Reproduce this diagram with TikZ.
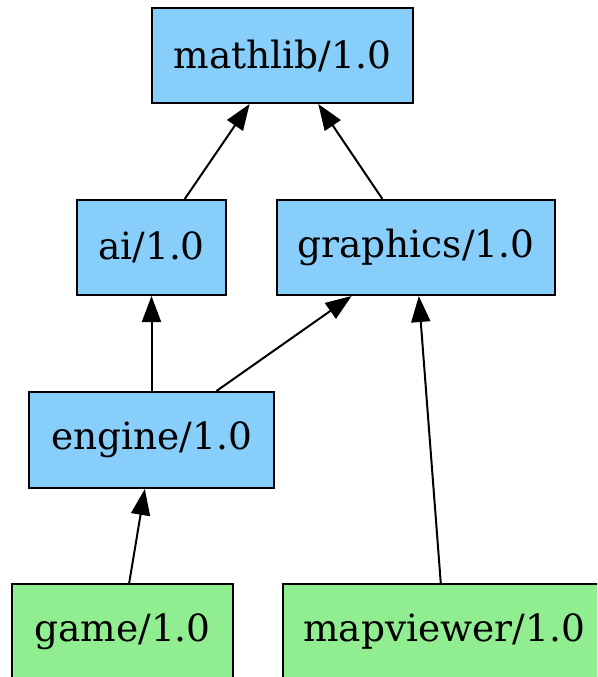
\documentclass[tikz,border=0pt]{standalone}
\usepackage{fontspec}
\setmainfont{DejaVu Serif}
\usetikzlibrary{arrows.meta,calc}
\definecolor{pkgblue}{HTML}{87CEFA}
\definecolor{pkggreen}{HTML}{90EE90}
\tikzset{
  pkg/.style={draw=black, line width=2pt, fill=pkgblue, minimum height=95pt, inner sep=0pt,
    font=\fontsize{37.5}{44}\selectfont},
  leaf/.style={pkg, fill=pkggreen},
  dep/.style={line width=2pt, -{Triangle[length=26pt,width=19pt]}}
}
\begin{document}
\begin{tikzpicture}[x=1pt,y=-1pt]
\path[use as bounding box, clip] (0,0) rectangle (597,677);
\node[pkg, minimum width=261pt] (mathlib) at (282.5,55.5) {mathlib/1.0};
\node[pkg, minimum width=149pt] (ai) at (151.5,247.5) {ai/1.0};
\node[pkg, minimum width=278pt] (graphics) at (416,247.5) {graphics/1.0};
\node[pkg, minimum width=245pt, minimum height=96pt] (engine) at (151.5,440) {engine/1.0};
\node[leaf, minimum width=221pt] (game) at (122.5,631.5) {game/1.0};
\node[leaf, minimum width=322pt] (mapviewer) at (444,631.5) {mapviewer/1.0};
\draw[dep] ($(ai.north west)!0.72!(ai.north east)$) -- ($(mathlib.south west)!0.375!(mathlib.south east)$);
\draw[dep] ($(graphics.north west)!0.38!(graphics.north east)$) -- ($(mathlib.south west)!0.636!(mathlib.south east)$);
\draw[dep] (engine.north) -- (ai.south);
\draw[dep] ($(engine.north west)!0.763!(engine.north east)$) -- ($(graphics.south west)!0.27!(graphics.south east)$);
\draw[dep] ($(game.north west)!0.53!(game.north east)$) -- ($(engine.south west)!0.473!(engine.south east)$);
\draw[dep] ($(mapviewer.north west)!0.49!(mapviewer.north east)$) -- ($(graphics.south west)!0.51!(graphics.south east)$);
\end{tikzpicture}
\end{document}
